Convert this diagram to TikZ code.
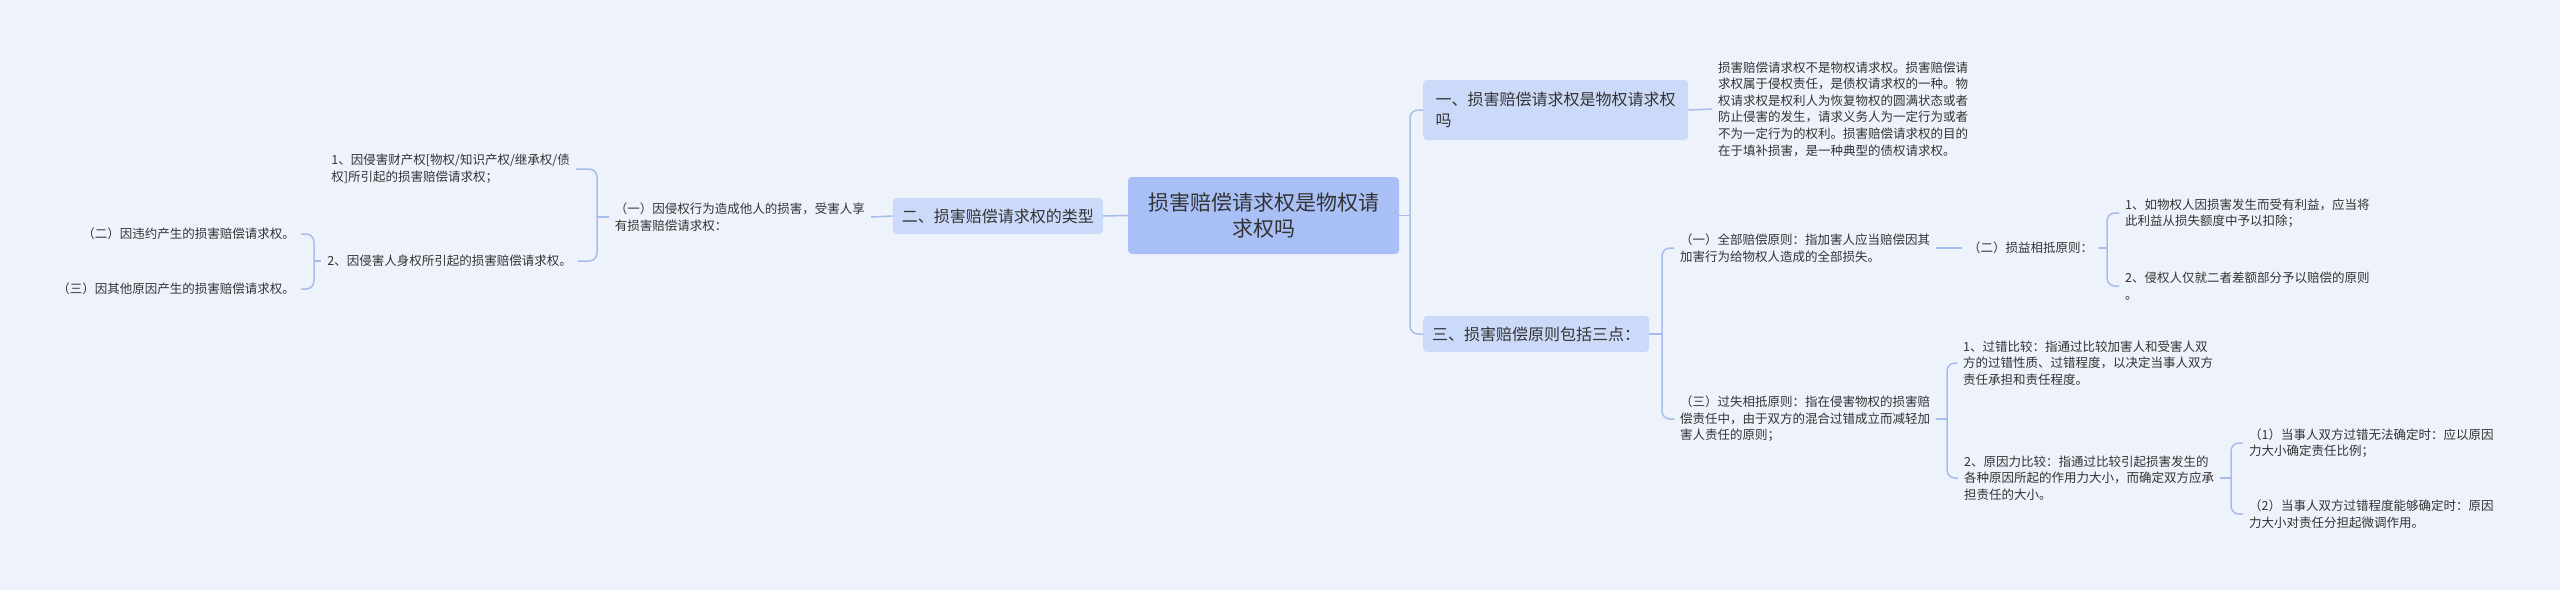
\documentclass[tikz,border=0pt]{standalone}
\usepackage{fontspec}
\setmainfont{Noto Sans CJK SC}
\usepackage{xcolor}
\usepackage{tikz}
\usetikzlibrary{positioning}
\definecolor{canvas}{HTML}{EEF2FB}
\definecolor{rootfill}{HTML}{A9C0F7}
\definecolor{topicfill}{HTML}{CCDAF9}
\definecolor{wire}{HTML}{A6BDEB}
\definecolor{ink}{HTML}{333333}

\begin{document}
\begin{tikzpicture}[
  x=1pt, y=-1pt,
  root/.style={fill=rootfill,rounded corners=4pt,align=center,text=ink,font=\fontsize{21}{26.5}\selectfont,minimum width=271pt,minimum height=77pt,inner sep=0pt},
  topic/.style={fill=topicfill,rounded corners=4pt,align=left,text=ink,font=\fontsize{16}{21}\selectfont,inner xsep=9pt,inner ysep=8pt,minimum height=36pt},
  leaf/.style={align=left,text=ink,font=\fontsize{12.5}{16.6}\selectfont,inner xsep=6pt,inner ysep=2pt},
  link/.style={draw=wire,line width=1.5pt},
  hook/.style={link,rounded corners=8pt}
]
\fill[canvas] (0,0) rectangle (2560,590);
\useasboundingbox (0,0) rectangle (2560,590);

\node[root] (root) at (1263.5,215.5) {损害赔偿请求权是物权请\\求权吗};

% left: types
\node[topic,anchor=east] (t2) at (1103,216) {二、损害赔偿请求权的类型};
\node[leaf,anchor=east] (t2a) at (871,217) {（一）因侵权行为造成他人的损害，受害人享\\有损害赔偿请求权：};
\node[leaf,anchor=east] (t2a1) at (576,169) {1、因侵害财产权[物权/知识产权/继承权/债\\权]所引起的损害赔偿请求权；};
\node[leaf,anchor=east] (t2a2) at (578,261) {2、因侵害人身权所引起的损害赔偿请求权。};
\node[leaf,anchor=east] (t2a2a) at (301,234) {（二）因违约产生的损害赔偿请求权。};
\node[leaf,anchor=east] (t2a2b) at (301,289) {（三）因其他原因产生的损害赔偿请求权。};

% right: topic one
\node[topic,anchor=west,minimum width=265pt,minimum height=60pt] (t1) at (1423,110) {一、损害赔偿请求权是物权请求权\\吗};
\node[leaf,anchor=west] (t1a) at (1712,109) {损害赔偿请求权不是物权请求权。损害赔偿请\\求权属于侵权责任，是债权请求权的一种。物\\权请求权是权利人为恢复物权的圆满状态或者\\防止侵害的发生，请求义务人为一定行为或者\\不为一定行为的权利。损害赔偿请求权的目的\\在于填补损害，是一种典型的债权请求权。};

% right: topic three
\node[topic,anchor=west] (t3) at (1423,334) {三、损害赔偿原则包括三点：};
\node[leaf,anchor=west] (t3a) at (1674,248) {（一）全部赔偿原则：指加害人应当赔偿因其\\加害行为给物权人造成的全部损失。};
\node[leaf,anchor=west] (t3a1) at (1962,248) {（二）损益相抵原则：};
\node[leaf,anchor=west] (t3a1a) at (2119,213) {1、如物权人因损害发生而受有利益，应当将\\此利益从损失额度中予以扣除；};
\node[leaf,anchor=west] (t3a1b) at (2119,286) {2、侵权人仅就二者差额部分予以赔偿的原则\\。};
\node[leaf,anchor=west] (t3b) at (1674,419) {（三）过失相抵原则：指在侵害物权的损害赔\\偿责任中，由于双方的混合过错成立而减轻加\\害人责任的原则；};
\node[leaf,anchor=west] (t3b1) at (1957,363) {1、过错比较：指通过比较加害人和受害人双\\方的过错性质、过错程度，以决定当事人双方\\责任承担和责任程度。};
\node[leaf,anchor=west] (t3b2) at (1958,478) {2、原因力比较：指通过比较引起损害发生的\\各种原因所起的作用力大小，而确定双方应承\\担责任的大小。};
\node[leaf,anchor=west] (t3b2a) at (2243,443) {（1）当事人双方过错无法确定时：应以原因\\力大小确定责任比例；};
\node[leaf,anchor=west] (t3b2b) at (2243,514) {（2）当事人双方过错程度能够确定时：原因\\力大小对责任分担起微调作用。};

% junctions
\coordinate (jr) at (1410,215.5);
\coordinate (j2a) at (597,217);
\coordinate (j2a2) at (314,261);
\coordinate (j3) at (1662,334);
\coordinate (j3a1) at (2107,248);
\coordinate (j3b) at (1947,419);
\coordinate (j3b2) at (2231,478);

% connectors
\draw[link] (root.west) -- (t2.east);
\draw[link] (t2.west) -- (t2a.east);
\draw[link] (t2a.west) -- (j2a);
\draw[hook] (j2a) |- (t2a1.east);
\draw[hook] (j2a) |- (t2a2.east);
\draw[link] (t2a2.west) -- (j2a2);
\draw[hook] (j2a2) |- (t2a2a.east);
\draw[hook] (j2a2) |- (t2a2b.east);

\draw[link] (root.east) -- (jr);
\draw[hook] (jr) |- (t1.west);
\draw[hook] (jr) |- (t3.west);
\draw[link] (t1.east) -- (t1a.west);
\draw[link] (t3.east) -- (j3);
\draw[hook] (j3) |- (t3a.west);
\draw[hook] (j3) |- (t3b.west);
\draw[link] (t3a.east) -- (t3a1.west);
\draw[link] (t3a1.east) -- (j3a1);
\draw[hook] (j3a1) |- (t3a1a.west);
\draw[hook] (j3a1) |- (t3a1b.west);
\draw[link] (t3b.east) -- (j3b);
\draw[hook] (j3b) |- (t3b1.west);
\draw[hook] (j3b) |- (t3b2.west);
\draw[link] (t3b2.east) -- (j3b2);
\draw[hook] (j3b2) |- (t3b2a.west);
\draw[hook] (j3b2) |- (t3b2b.west);
\end{tikzpicture}
\end{document}
